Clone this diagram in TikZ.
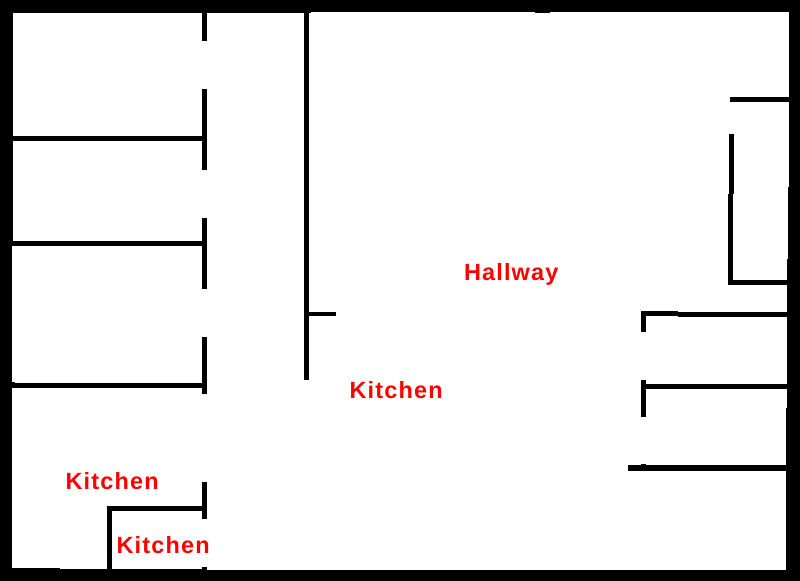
\documentclass[tikz,border=0pt]{standalone}
\usepackage{fontspec}
\setmainfont{Liberation Sans}
\newfontfamily\labelfont[LetterSpace=5]{Liberation Sans}
\tikzset{
  x=0.75pt, y=-0.75pt,
  roomlabel/.style={anchor=base west, inner sep=0pt, outer sep=0pt, text=red, font=\labelfont\bfseries\fontsize{17.6pt}{20pt}\selectfont},
  wall/.style={fill=black, draw=none}
}
\newcommand{\wl}[4]{\fill[wall] (#1,#2) rectangle (#3,#4);}
\begin{document}
\begin{tikzpicture}
\useasboundingbox (0,0) rectangle (800,581);
\fill[white] (0,0) rectangle (800,581);
% outer walls
\wl{0}{0}{800}{12}\wl{0}{0}{311}{13}\wl{535}{0}{550}{13}
\wl{0}{0}{12}{581}\wl{0}{0}{13}{245}
\wl{789}{0}{800}{581}\wl{788}{187}{800}{318}\wl{787}{259}{800}{408}\wl{786}{408}{800}{581}
\wl{0}{570}{800}{581}\wl{0}{569}{203}{581}\wl{0}{568}{60}{581}
% left column wall
\wl{202}{12}{207}{41}
\wl{202}{89}{207}{170}
\wl{202}{218}{207}{289}
\wl{202}{337}{207}{394}
\wl{202}{482}{207}{519}
\wl{202}{567}{207}{570}
% left partitions
\wl{12}{136}{202}{141}
\wl{12}{241}{202}{246}
\wl{12}{383}{202}{388}\wl{12}{382}{15}{384}
% small room
\wl{107}{506}{202}{511}
\wl{107}{506}{112}{570}
% long wall
\wl{304}{12}{309}{380}
\wl{304}{312}{336}{316}
% right upper room
\wl{730}{97}{789}{102}
\wl{729}{134}{734}{194}
\wl{728}{194}{733}{285}
\wl{728}{280}{788}{285}
% right lower rooms
\wl{641}{311}{646}{332}
\wl{641}{311}{678}{316}
\wl{678}{312}{788}{317}
\wl{641}{380}{646}{417}
\wl{641}{384}{787}{389}
\wl{641}{464}{646}{466}
\wl{628}{465}{786}{471}
% labels
\node[roomlabel] (hall) at (464,280.7) {Hallway};
\node[roomlabel] (kitchenA) at (349.5,398.2) {Kitchen};
\node[roomlabel] (kitchenB) at (65.5,489.2) {Kitchen};
\node[roomlabel] (kitchenC) at (116.5,553.2) {Kitchen};
\end{tikzpicture}
\end{document}
